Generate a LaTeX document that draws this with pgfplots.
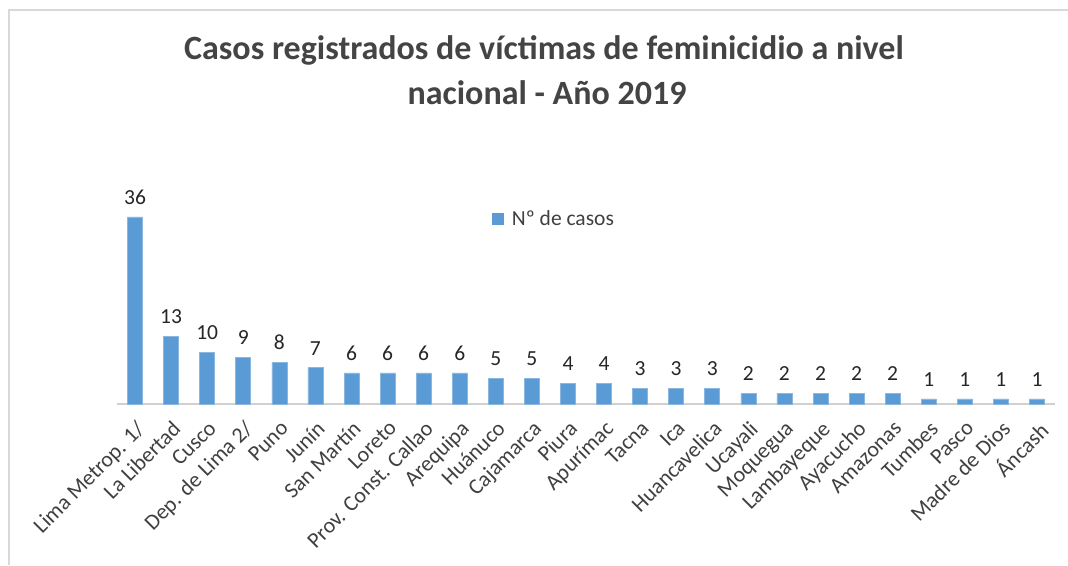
\documentclass[border=0pt]{standalone}
\usepackage{pgfplots}
\pgfplotsset{compat=1.18}
\usepackage{fontspec}
\setmainfont{Carlito}
\definecolor{barblue}{HTML}{5B9BD5}
\definecolor{baredge}{HTML}{8AB6E0}
\definecolor{titlegray}{HTML}{444444}
\definecolor{labelgray}{HTML}{404040}
\definecolor{framegray}{HTML}{D9D9D9}
\definecolor{axisgray}{HTML}{D0D0D0}
\begin{document}
\begin{tikzpicture}[x=1pt,y=1pt]
\useasboundingbox (0,0) rectangle (1068,565);
\fill[white] (0,0) rectangle (1068,565);
\draw[line width=2.2pt, color=framegray] (9,0) -- (9,555) -- (1068,555);
\node[font=\fontsize{34}{40}\selectfont\bfseries, text=titlegray, anchor=base] at (544,505) {Casos registrados de víctimas de feminicidio a nivel};
\node[font=\fontsize{34}{40}\selectfont\bfseries, text=titlegray, anchor=base] at (547,460) {nacional - Año 2019};
\begin{axis}[
  at={(117pt,161pt)}, anchor=south west,
  scale only axis, width=938pt, height=207.8pt,
  xmin=-0.5, xmax=25.5, ymin=0, ymax=40,
  axis y line=none,
  axis x line*=bottom,
  x axis line style={draw=axisgray, line width=1.6pt, -},
  xtick={0,...,25},
  xticklabels={Lima Metrop. 1/, La Libertad, Cusco, Dep. de Lima 2/, Puno, Junín, San Martín, Loreto, Prov. Const. Callao, Arequipa, Huánuco, Cajamarca, Piura, Apurímac, Tacna, Ica, Huancavelica, Ucayali, Moquegua, Lambayeque, Ayacucho, Amazonas, Tumbes, Pasco, Madre de Dios, Áncash},
  major tick length=0pt,
  xticklabel shift=14pt,
  x tick label style={rotate=45, anchor=north east, font=\fontsize{22}{26}\selectfont, text=labelgray, inner sep=1pt},
  ybar, bar width=15pt,
  nodes near coords,
  /pgf/number format/assume math mode=true,
  every node near coord/.append style={font=\fontsize{21.5}{25}\selectfont, text=black!85, yshift=9pt},
  legend style={at={(0.466,0.89)}, anchor=center, draw=none, fill=none, font=\fontsize{21.5}{25}\selectfont, text=labelgray},
  legend image code/.code={\fill[barblue] (0pt,-5.5pt) rectangle (11pt,5.5pt); \path (17pt,0pt);},
  clip=false,
]
\addplot[fill=barblue, draw=baredge, line width=0.6pt] coordinates {
(0,36) (1,13) (2,10) (3,9) (4,8) (5,7) (6,6) (7,6) (8,6) (9,6) (10,5) (11,5) (12,4) (13,4) (14,3) (15,3) (16,3) (17,2) (18,2) (19,2) (20,2) (21,2) (22,1) (23,1) (24,1) (25,1)};
\addlegendentry{Nº de casos}
\end{axis}
\end{tikzpicture}
\end{document}
